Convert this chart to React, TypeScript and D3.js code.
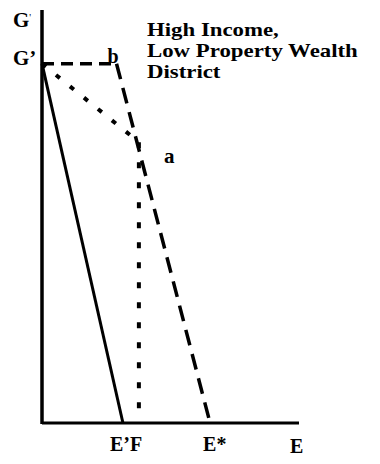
import React from "react";
import * as d3 from "d3";

// Abstract units (E on x, G on y)
const axisMax = { e: 100, g: 100 };
const gPrime = 87; // G' level
const bPoint = { e: 29, g: 87 };
const aPoint = { e: 37.7, g: 68 };
const ePrime = 31.5;
const fPoint = 37.7;
const eStar = 65.4;

const solidLine = [
  { e: 0, g: gPrime },
  { e: ePrime, g: 0 },
];
const dashedLine = [
  { e: 0, g: gPrime },
  { e: bPoint.e, g: bPoint.g },
  { e: eStar, g: 0 },
];
const dottedLine = [
  { e: 0, g: gPrime },
  { e: aPoint.e, g: aPoint.g },
  { e: fPoint, g: 0 },
];
const titleLines = ["High Income,", "Low Property Wealth", "District"];

export default function App() {
  const W = 380;
  const H = 464;
  const x0 = 42;
  const y0 = 423;
  const x = d3.scaleLinear().domain([0, axisMax.e]).range([x0, 299]);
  const y = d3.scaleLinear().domain([0, axisMax.g]).range([y0, 10]);
  const line = d3
    .line<{ e: number; g: number }>()
    .x((d) => x(d.e))
    .y((d) => y(d.g));

  const font = "'Liberation Serif', 'Times New Roman', serif";
  const dashedH = line(dashedLine.slice(0, 2)) as string;
  const dashedS = line(dashedLine.slice(1)) as string;

  return (
    <div style={{ position: "fixed", left: 0, top: 0 }}>
      <svg width={W} height={H} style={{ display: "block", background: "#fff" }} fontFamily={font} fontWeight="bold">
        {/* axes */}
        <line x1={x(0)} y1={y(axisMax.g)} x2={x(0)} y2={y(0) + 1} stroke="#000" strokeWidth={3.5} />
        <line x1={x(0)} y1={y(0)} x2={x(axisMax.e)} y2={y(0)} stroke="#000" strokeWidth={3} />

        {/* solid */}
        <path d={line(solidLine) as string} fill="none" stroke="#000" strokeWidth={3} />
        {/* dashed */}
        <path d={dashedH} fill="none" stroke="#000" strokeWidth={3.5} strokeDasharray="12,7" />
        <path d={dashedS} fill="none" stroke="#000" strokeWidth={3.5} strokeDasharray="16,9" />
        {/* dotted */}
        <path d={line(dottedLine.slice(0, 2)) as string} fill="none" stroke="#000" strokeWidth={4} strokeDasharray="5,13" />
        <path d={line(dottedLine.slice(1)) as string} fill="none" stroke="#000" strokeWidth={4} strokeDasharray="6,14" />

        {/* y labels */}
        <text x={13} y={27} fontSize={21}>
          G<tspan fontSize={10} fontWeight="normal" dy={-6}>'</tspan>
        </text>
        <text x={13} y={y(gPrime) + 1} fontSize={21}>G’</text>

        {/* point labels */}
        <text x={x(bPoint.e) - 9} y={y(bPoint.g) - 1} fontSize={20}>b</text>
        <text x={x(aPoint.e) + 25} y={y(aPoint.g) + 21} fontSize={21}>a</text>

        {/* x labels */}
        <text x={x(ePrime) - 13} y={451} fontSize={20}>E’F</text>
        <text x={x(eStar) - 7} y={451} fontSize={20}>E*</text>
        <text x={290} y={453} fontSize={20}>E</text>

        {/* title */}
        <g transform="translate(147,0) scale(1.17,1)">
          {titleLines.map((t, i) => (
            <text key={i} x={0} y={36 + i * 21.2} fontSize={19.5}>
              {t}
            </text>
          ))}
        </g>
      </svg>
    </div>
  );
}
